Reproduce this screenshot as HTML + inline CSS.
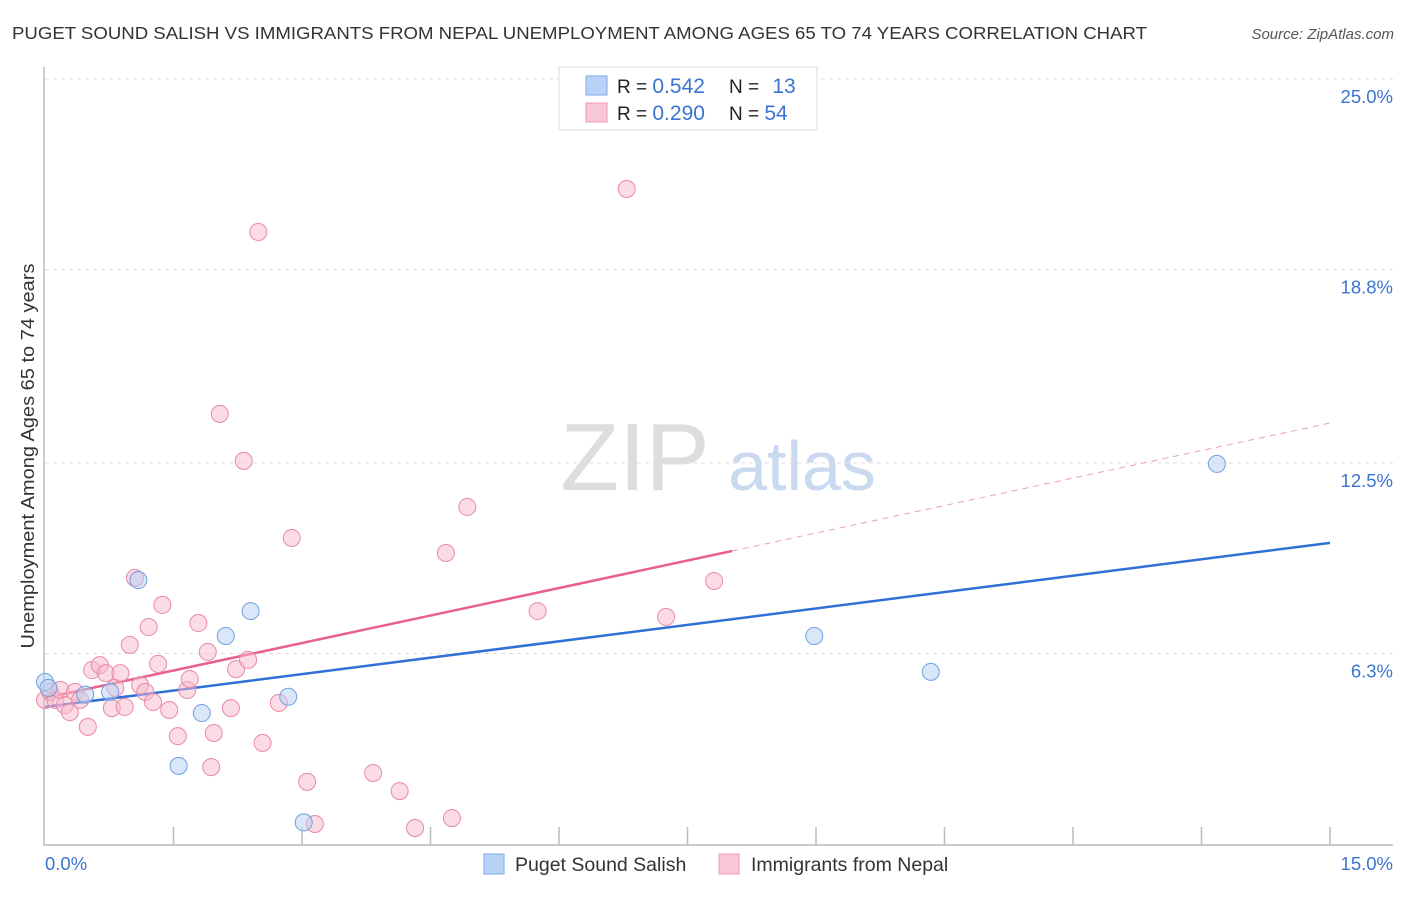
<!DOCTYPE html>
<html><head><meta charset="utf-8"><style>
body{margin:0;background:#fff;font-family:"Liberation Sans",sans-serif;}
svg text{font-family:"Liberation Sans",sans-serif;}
</style></head><body>
<svg id="chart" width="1406" height="892" xmlns="http://www.w3.org/2000/svg">
<text x="12" y="39" font-size="17.5" fill="#333" textLength="1135" lengthAdjust="spacingAndGlyphs">PUGET SOUND SALISH VS IMMIGRANTS FROM NEPAL UNEMPLOYMENT AMONG AGES 65 TO 74 YEARS CORRELATION CHART</text>
<text x="1394" y="39" font-size="15" fill="#555" font-style="italic" text-anchor="end">Source: ZipAtlas.com</text>
<text x="0" y="0" transform="translate(34,456) rotate(-90)" font-size="18.5" fill="#333" text-anchor="middle" textLength="385" lengthAdjust="spacingAndGlyphs">Unemployment Among Ages 65 to 74 years</text>
<text x="635" y="490" font-size="96" fill="#ddd" font-family="Liberation Serif" text-anchor="middle">ZIP</text>
<text x="802" y="490" font-size="70" fill="#c9d9ef" text-anchor="middle">atlas</text>
<g id="grid"></g><g id="axes"></g><g id="lines"></g><g id="points"></g>
<g>
<rect x="559" y="67" width="258" height="63" fill="#fff" stroke="#ddd"/>
<rect x="586" y="76" width="21" height="19" fill="#b9d2f5" stroke="#7eaaea"/>
<rect x="586" y="103" width="21" height="19" fill="#f9c8d6" stroke="#ef9ab4"/>
<text x="617" y="93" font-size="19" fill="#222">R = <tspan fill="#3b74d0" font-size="21">0.542</tspan></text>
<text x="729" y="93" font-size="19" fill="#222">N = <tspan fill="#3b74d0" dx="8" font-size="21">13</tspan></text>
<text x="617" y="120" font-size="19" fill="#222">R = <tspan fill="#3b74d0" font-size="21">0.290</tspan></text>
<text x="729" y="120" font-size="19" fill="#222">N = <tspan fill="#3b74d0" font-size="21">54</tspan></text>
</g>
<g>
<rect x="484" y="854" width="20" height="20" fill="#b9d2f5" stroke="#7eaaea"/>
<text x="515" y="871" font-size="19.5" fill="#333">Puget Sound Salish</text>
<rect x="719" y="854" width="20" height="20" fill="#f9c8d6" stroke="#ef9ab4"/>
<text x="751" y="871" font-size="19.5" fill="#333">Immigrants from Nepal</text>
</g>
</svg>
<script>
const yTicks=[25.0,18.8,12.5,6.3];
const yTickLabels=["25.0%","18.8%","12.5%","6.3%"];
const xTickCount=11;
const blueX=[0.0,0.04,0.47,0.76,1.09,1.56,1.83,2.11,2.40,2.84,3.02,8.98,10.34,13.68];
const blueY=[5.37,5.18,4.96,5.05,8.69,2.64,4.36,6.87,7.68,4.89,0.8,6.87,5.70,12.47];
const pinkX=[0.00,0.06,0.12,0.18,0.23,0.29,0.35,0.41,0.50,0.55,0.64,0.71,0.78,0.82,0.88,0.93,0.99,1.05,1.11,1.17,1.21,1.26,1.32,1.37,1.45,1.55,1.66,1.69,1.79,1.90,1.94,1.97,2.04,2.17,2.23,2.32,2.37,2.49,2.54,2.73,2.88,3.06,3.15,3.83,4.14,4.32,4.68,4.75,4.93,5.75,6.79,7.25,7.81];
const pinkY=[4.79,5.05,4.79,5.11,4.62,4.39,5.05,4.79,3.91,5.76,5.92,5.66,4.52,5.18,5.66,4.56,6.58,8.76,5.27,5.05,7.16,4.72,5.96,7.88,4.46,3.61,5.11,5.47,7.29,6.35,2.60,3.71,14.10,4.52,5.79,12.57,6.09,20.02,3.39,4.69,10.06,2.12,0.75,2.41,1.82,0.62,9.57,0.94,11.07,7.68,21.42,7.49,8.66];
const blueTrend=[4.56,9.90];
const pinkTrend=[4.85,13.8];
const pinkSolidEnd=8.02;
const NS="http://www.w3.org/2000/svg";
const sx=v=>45+v*(1330-45)/15;
const sy=v=>847-v*30.72;
function mk(t,a,p){const e=document.createElementNS(NS,t);for(const k in a)e.setAttribute(k,a[k]);document.getElementById(p).appendChild(e);return e;}
yTicks.forEach((v,i)=>{
 const l=mk('line',{x1:45,x2:1393,y1:sy(v),y2:sy(v),stroke:'#ddd','stroke-dasharray':'4,4'},'grid');
 
 
 const t=mk('text',{x:1393,y:sy(v)+24,'font-size':18.5,fill:'#3b74d0','text-anchor':'end'},'axes');
 t.textContent=yTickLabels[i];
 
 
});
const ax=mk('path',{d:'M44,67 V845 H1393',fill:'none',stroke:'#bbb','stroke-width':1.5},'axes');


for(let i=1;i<xTickCount;i++){
 const t=mk('line',{x1:sx(i*1.5),x2:sx(i*1.5),y1:827,y2:845,stroke:'#bbb','stroke-width':1.5},'axes');
 
 
}
let t0=mk('text',{x:45,y:870,'font-size':18.5,fill:'#3b74d0'},'axes');t0.textContent='0.0%';


let t1=mk('text',{x:1393,y:870,'font-size':18.5,fill:'#3b74d0','text-anchor':'end'},'axes');t1.textContent='15.0%';


const pt=(x,y,c,s,n)=>{const e=mk('circle',{cx:sx(x),cy:sy(y),r:8.5,fill:c,'fill-opacity':0.5,stroke:s,'stroke-width':1},'points');
 
 };
pinkX.forEach((x,i)=>pt(x,pinkY[i],'#f7b9cc','#e889a8','nepal-point'));
blueX.forEach((x,i)=>pt(x,blueY[i],'#b4cff3','#6f9fe0','salish-point'));
const pf=x=>pinkTrend[0]+(pinkTrend[1]-pinkTrend[0])*x/15;
let b=mk('line',{x1:sx(0),y1:sy(blueTrend[0]),x2:sx(15),y2:sy(blueTrend[1]),stroke:'#2f6fd6','stroke-width':2.5},'lines');


let p=mk('line',{x1:sx(0),y1:sy(pf(0)),x2:sx(pinkSolidEnd),y2:sy(pf(pinkSolidEnd)),stroke:'#e8608d','stroke-width':2.5},'lines');


let pd=mk('line',{x1:sx(pinkSolidEnd),y1:sy(pf(pinkSolidEnd)),x2:sx(15),y2:sy(pf(15)),stroke:'#e8a0b8','stroke-width':1,'stroke-dasharray':'6,5'},'lines');


</script>
</body></html>
